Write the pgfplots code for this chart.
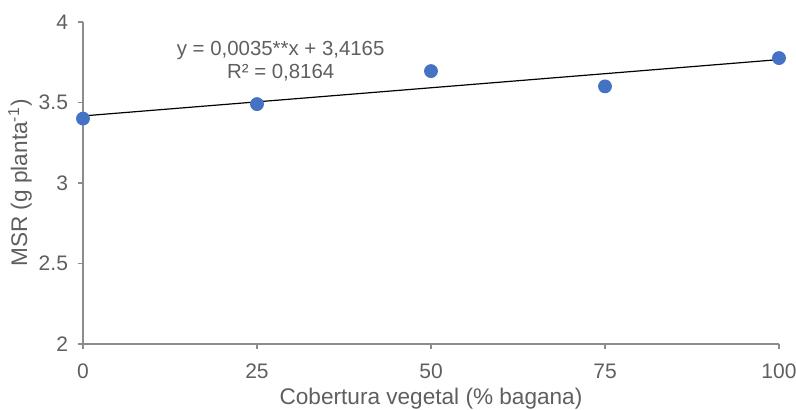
\documentclass[border=0pt]{standalone}
\usepackage{pgfplots}
\pgfplotsset{compat=1.18}
\usepackage{fontspec}
\setmainfont{Liberation Sans}
\definecolor{axgray}{RGB}{140,140,140}
\definecolor{txtgray}{RGB}{95,95,95}
\definecolor{ptblue}{RGB}{68,114,196}
\begin{document}
\begin{tikzpicture}
\begin{axis}[
  at={(0,0)}, anchor=south west,
  scale only axis, width=348pt, height=161pt,
  xmin=0, xmax=100, ymin=2, ymax=4,
  xtick={0,25,50,75,100}, ytick={2,2.5,3,3.5,4},
  axis x line*=bottom, axis y line*=left,
  axis line style={axgray, line width=0.6pt},
  x axis line style={-}, y axis line style={-},
  tick style={axgray, line width=0.6pt},
  tick align=outside, major tick length=2.5pt,
  /pgf/number format/assume math mode=true,
  tick label style={font=\fontsize{10.5}{12}\selectfont, text=txtgray},
  xticklabel style={yshift=-4pt},
  yticklabel style={xshift=-1.5pt},
  label style={font=\fontsize{11.3}{13}\selectfont, text=txtgray},
  xlabel={Cobertura vegetal (\% bagana)},
  ylabel={MSR (g planta\textsuperscript{-1})},
  xlabel style={at={(axis description cs:0.5,-0.187)}, anchor=base, inner sep=0pt},
  ylabel style={at={(axis description cs:-0.0905,0.5)}, anchor=center},
  clip=false,
]
\addplot[black, line width=0.6pt] coordinates {(0,3.4165) (100,3.7665)};
\addplot[only marks, mark=*, mark size=3.25pt, mark options={draw=ptblue, fill=ptblue}]
  coordinates {(0,3.40) (25,3.49) (50,3.695) (75,3.60) (100,3.776)};
\node[font=\fontsize{10.2}{12}\selectfont, text=txtgray, align=center] at (axis cs:28.4,3.826) {y = 0,0035**x + 3,4165};
\node[font=\fontsize{10.2}{12}\selectfont, text=txtgray, align=center] at (axis cs:28.4,3.683) {R² = 0,8164};
\end{axis}
\pgfresetboundingbox
\useasboundingbox (-41.5pt,-33pt) rectangle (356.5pt,172pt);
\end{tikzpicture}
\end{document}
